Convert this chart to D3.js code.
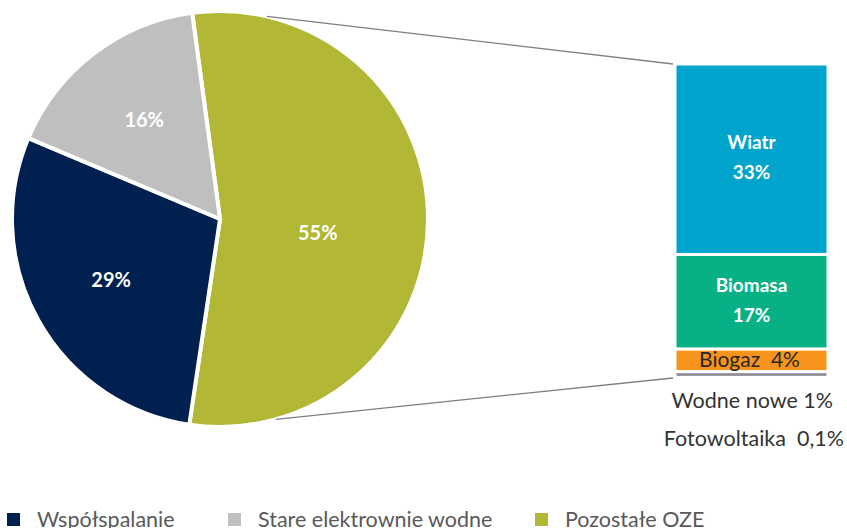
<!DOCTYPE html>
<html>
<head>
<meta charset="utf-8">
<script src="https://cdn.jsdelivr.net/npm/d3@7"></script>
<style>
  body { margin: 0; background: #fff; }
  svg { display: block; font-family: Lato, "Open Sans", sans-serif; }
</style>
</head>
<body>
<svg width="847" height="528"></svg>
<script>
// pie data
var pieNames = ['Pozostałe OZE', 'Współspalanie', 'Stare elektrownie wodne'];
var pieValues = [54.5, 29, 16.5];
var pieLabels = ['55%', '29%', '16%'];
var pieColors = ['#b2b735', '#00204f', '#bfbfbf'];

// breakdown of Pozostałe OZE
var barNames = ['Wiatr', 'Biomasa', 'Biogaz', 'Wodne nowe', 'Fotowoltaika'];
var barValues = [33, 16.4, 3.9, 1, 0.1];
var barLabels = ['33%', '17%', '4%', '1%', '0,1%'];
var barColors = ['#00a4cc', '#08b085', '#f7941d', '#8c8c94', '#6b7388'];

// legend order
var legendNames = ['Współspalanie', 'Stare elektrownie wodne', 'Pozostałe OZE'];
var legendColors = ['#00204f', '#bfbfbf', '#b2b735'];

var svg = d3.select('svg');
var cx = 220, cy = 219, r = 208;
var deg = Math.PI / 180;

var pie = d3.pie().sort(null).startAngle(-7.7 * deg).endAngle(352.3 * deg);
var arcs = pie(pieValues);
var arc = d3.arc().innerRadius(0).outerRadius(r);

var g = svg.append('g').attr('transform', 'translate(' + cx + ',' + cy + ')');
g.selectAll('path').data(arcs).enter().append('path')
  .attr('d', arc)
  .attr('fill', function(d, i){ return pieColors[i]; })
  .attr('stroke', '#fff')
  .attr('stroke-width', 4)
  .attr('stroke-linejoin', 'round');

g.selectAll('text').data(arcs).enter().append('text')
  .attr('transform', function(d, i){
    var rr = i === 0 ? 0.47 * r : 0.6 * r;
    var a = (d.startAngle + d.endAngle) / 2;
    var dy = i === 0 ? 13 : 0;
    return 'translate(' + (Math.sin(a) * rr) + ',' + (-Math.cos(a) * rr + dy + 7) + ')';
  })
  .attr('text-anchor', 'middle')
  .attr('fill', '#fff')
  .attr('font-weight', 'bold')
  .attr('font-size', 20)
  .text(function(d, i){ return pieLabels[i]; });

// stacked bar
var bx = 675, bw = 153;
var total = d3.sum(barValues);
var y = d3.scaleLinear().domain([0, total]).range([64, 378]);
var cum = 0;
var segs = barValues.map(function(v, i){
  var s = { y0: cum, y1: cum + v, i: i };
  cum += v;
  return s;
});

svg.selectAll('rect.seg').data(segs).enter().append('rect')
  .attr('class', 'seg')
  .attr('x', bx)
  .attr('width', bw)
  .attr('y', function(d){ return y(d.y0); })
  .attr('height', function(d){ return Math.max(1, y(d.y1) - y(d.y0)); })
  .attr('fill', function(d){ return barColors[d.i]; })
  .attr('stroke', '#fff')
  .attr('stroke-width', 3);

// connector lines
var a1 = 13 * deg, a2 = 164.4 * deg;
svg.append('line')
  .attr('x1', cx + Math.sin(a1) * r).attr('y1', cy - Math.cos(a1) * r)
  .attr('x2', bx - 2).attr('y2', y(0))
  .attr('stroke', '#7f7f7f').attr('stroke-width', 1.3);
svg.append('line')
  .attr('x1', cx + Math.sin(a2) * r).attr('y1', cy - Math.cos(a2) * r)
  .attr('x2', bx - 2).attr('y2', y(total))
  .attr('stroke', '#7f7f7f').attr('stroke-width', 1.3);

// labels inside bar
var mid = bx + bw / 2;
[0, 1].forEach(function(i){
  var c = (y(segs[i].y0) + y(segs[i].y1)) / 2;
  svg.append('text').attr('x', mid).attr('y', c - 17 + 7)
    .attr('text-anchor', 'middle').attr('fill', '#fff')
    .attr('font-weight', 'bold').attr('font-size', 19)
    .text(barNames[i]);
  svg.append('text').attr('x', mid).attr('y', c + 13 + 7)
    .attr('text-anchor', 'middle').attr('fill', '#fff')
    .attr('font-weight', 'bold').attr('font-size', 19)
    .text(barLabels[i]);
});
var cb = (y(segs[2].y0) + y(segs[2].y1)) / 2;
svg.append('text').attr('x', mid - 2).attr('y', cb + 7)
  .attr('text-anchor', 'middle').attr('fill', '#262626')
  .attr('font-size', 21).attr('xml:space', 'preserve')
  .text(barNames[2] + '  ' + barLabels[2]);

svg.append('text').attr('x', 833).attr('y', 408)
  .attr('text-anchor', 'end').attr('fill', '#333')
  .attr('font-size', 21.5).attr('xml:space', 'preserve')
  .text(barNames[3] + ' ' + barLabels[3]);
svg.append('text').attr('x', 844).attr('y', 446)
  .attr('text-anchor', 'end').attr('fill', '#333')
  .attr('font-size', 21.5).attr('xml:space', 'preserve')
  .text(barNames[4] + '  ' + barLabels[4]);

// legend
var legX = [7, 228, 535];
var leg = svg.selectAll('g.leg').data(legendNames).enter().append('g')
  .attr('class', 'leg')
  .attr('transform', function(d, i){ return 'translate(' + legX[i] + ',513)'; });
leg.append('rect').attr('width', 13).attr('height', 13)
  .attr('fill', function(d, i){ return legendColors[i]; });
leg.append('text').attr('x', 30).attr('y', 14)
  .attr('fill', '#595959').attr('font-size', 21.5)
  .text(function(d){ return d; });
</script>
</body>
</html>
